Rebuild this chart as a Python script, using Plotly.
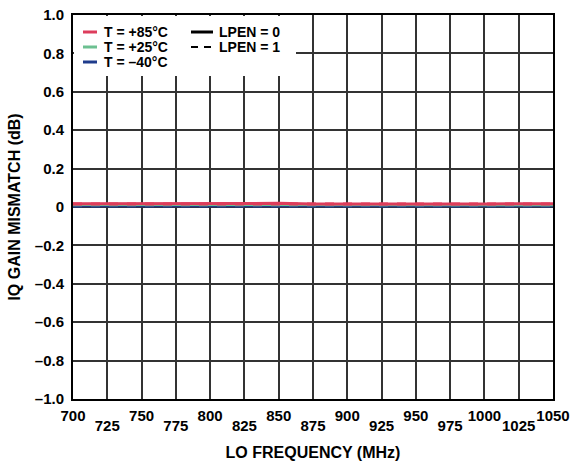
import plotly.graph_objects as go

# LO frequency sweep (MHz)
freq_mhz = [700, 725, 750, 775, 800, 825, 850, 875, 900, 925, 950, 975, 1000, 1025, 1050]

# IQ gain mismatch (dB) per temperature, LPEN = 0 (solid) and LPEN = 1 (dashed)
gain_85c_lpen0 = [0.017, 0.017, 0.016, 0.017, 0.018, 0.018, 0.020, 0.016, 0.016, 0.017, 0.017, 0.016, 0.016, 0.017, 0.017]
gain_85c_lpen1 = [0.016, 0.016, 0.016, 0.016, 0.017, 0.017, 0.019, 0.016, 0.015, 0.016, 0.016, 0.016, 0.015, 0.016, 0.016]
gain_25c_lpen0 = [0.013, 0.013, 0.012, 0.013, 0.013, 0.014, 0.015, 0.013, 0.012, 0.012, 0.012, 0.012, 0.012, 0.012, 0.012]
gain_25c_lpen1 = [0.012, 0.012, 0.012, 0.012, 0.013, 0.013, 0.014, 0.012, 0.012, 0.012, 0.011, 0.011, 0.011, 0.012, 0.012]
gain_m40c_lpen0 = [0.006, 0.006, 0.006, 0.006, 0.007, 0.007, 0.008, 0.006, 0.006, 0.006, 0.006, 0.006, 0.005, 0.006, 0.006]
gain_m40c_lpen1 = [0.005, 0.005, 0.005, 0.006, 0.006, 0.006, 0.007, 0.005, 0.005, 0.005, 0.005, 0.005, 0.005, 0.005, 0.005]

# Tick labels alternate between two rows
x_ticks_upper = [700, 750, 800, 850, 900, 950, 1000, 1050]
x_ticks_lower = [725, 775, 825, 875, 925, 975, 1025]
x_grid = [700, 725, 750, 775, 800, 825, 850, 875, 900, 925, 950, 975, 1000, 1025, 1050]
y_ticks = [-1.0, -0.8, -0.6, -0.4, -0.2, 0, 0.2, 0.4, 0.6, 0.8, 1.0]
y_tick_text = ["–1.0", "–0.8", "–0.6", "–0.4", "–0.2", "0", "0.2", "0.4", "0.6", "0.8", "1.0"]

RED = "#dd3d5c"
GREEN = "#6cc091"
BLUE = "#1f3c8c"
GRID = "#333333"
FONT = "Liberation Sans, Arial, sans-serif"
TICKFONT = dict(family=FONT, size=15, color="black", weight="bold")

fig = go.Figure()
series = [
    (gain_m40c_lpen0, BLUE, "solid"),
    (gain_m40c_lpen1, BLUE, "dash"),
    (gain_25c_lpen0, GREEN, "solid"),
    (gain_25c_lpen1, GREEN, "dash"),
    (gain_85c_lpen1, RED, "dash"),
    (gain_85c_lpen0, RED, "solid"),
]
for ys, col, dash in series:
    fig.add_trace(go.Scatter(x=freq_mhz, y=ys, mode="lines",
                             line=dict(color=col, width=3, dash=dash),
                             showlegend=False, hoverinfo="skip"))

# Legend drawn with shapes and annotations (paper coordinates)
W, H = 572, 461
ml, mr, mt, mb = 73, 19, 15, 62
pw, ph = W - ml - mr, H - mt - mb

def px(x):
    return (x - ml) / pw

def py(y):
    return 1 - (y - mt) / ph

shapes = [dict(type="rect", xref="paper", yref="paper",
               x0=px(74), x1=px(296), y0=py(76), y1=py(16),
               fillcolor="white", line=dict(width=0), layer="above")]
annotations = []
legend_rows = [(RED, "T = +85°C", 32), (GREEN, "T = +25°C", 47), (BLUE, "T = –40°C", 62)]
for col, txt, yy in legend_rows:
    shapes.append(dict(type="line", xref="paper", yref="paper",
                       x0=px(83), x1=px(97), y0=py(yy), y1=py(yy),
                       line=dict(color=col, width=3), layer="above"))
    annotations.append(dict(x=px(103), y=py(yy), xref="paper", yref="paper",
                            text="<b>" + txt + "</b>", showarrow=False,
                            xanchor="left", yanchor="middle", borderpad=0,
                            font=dict(family=FONT, size=14, color="black")))
for dash, txt, yy in [("solid", "LPEN = 0", 32), ("dash", "LPEN = 1", 47)]:
    shapes.append(dict(type="line", xref="paper", yref="paper",
                       x0=px(191), x1=px(213), y0=py(yy), y1=py(yy),
                       line=dict(color="black", width=3 if dash == "solid" else 2,
                                 dash="solid" if dash == "solid" else "7px,6px"),
                       layer="above"))
    annotations.append(dict(x=px(218), y=py(yy), xref="paper", yref="paper",
                            text="<b>" + txt + "</b>", showarrow=False,
                            xanchor="left", yanchor="middle", borderpad=0,
                            font=dict(family=FONT, size=14, color="black")))

fig.update_layout(
    width=W, height=H,
    margin=dict(l=ml, r=mr, t=mt, b=mb),
    paper_bgcolor="white", plot_bgcolor="white",
    font=dict(family=FONT, size=15, color="black"),
    shapes=shapes, annotations=annotations,
    showlegend=False,
)
fig.update_xaxes(
    range=[700, 1050], tickvals=x_grid,
    ticktext=[str(v) if v in x_ticks_upper else "" for v in x_grid],
    showgrid=True, gridcolor=GRID, gridwidth=1.5,
    showline=True, linecolor="black", linewidth=2, mirror=True,
    ticks="", zeroline=False, automargin=False,
    tickfont=TICKFONT, ticklabelstandoff=2,
    title=dict(text="<b>LO FREQUENCY (MHz)</b>", standoff=32,
               font=dict(family=FONT, size=16, color="black")),
)
# second label row for the in-between frequencies
fig.update_layout(xaxis2=dict(
    overlaying="x", matches="x", side="bottom", range=[700, 1050],
    tickvals=x_ticks_lower, ticktext=[str(v) for v in x_ticks_lower],
    showgrid=False, showline=False, zeroline=False, ticks="",
    automargin=False, tickfont=TICKFONT, ticklabelstandoff=16,
))
fig.add_trace(go.Scatter(x=[700], y=[None], xaxis="x2", showlegend=False, hoverinfo="skip"))
fig.update_yaxes(
    range=[-1.0, 1.0], tickvals=y_ticks, ticktext=y_tick_text,
    showgrid=True, gridcolor=GRID, gridwidth=1.5,
    showline=True, linecolor="black", linewidth=2, mirror=True,
    ticks="", zeroline=False, automargin=False,
    tickfont=TICKFONT, ticklabelstandoff=4,
    title=dict(text="<b>IQ GAIN MISMATCH (dB)</b>", standoff=10,
               font=dict(family=FONT, size=16, color="black")),
)

fig.write_html("out.html")
